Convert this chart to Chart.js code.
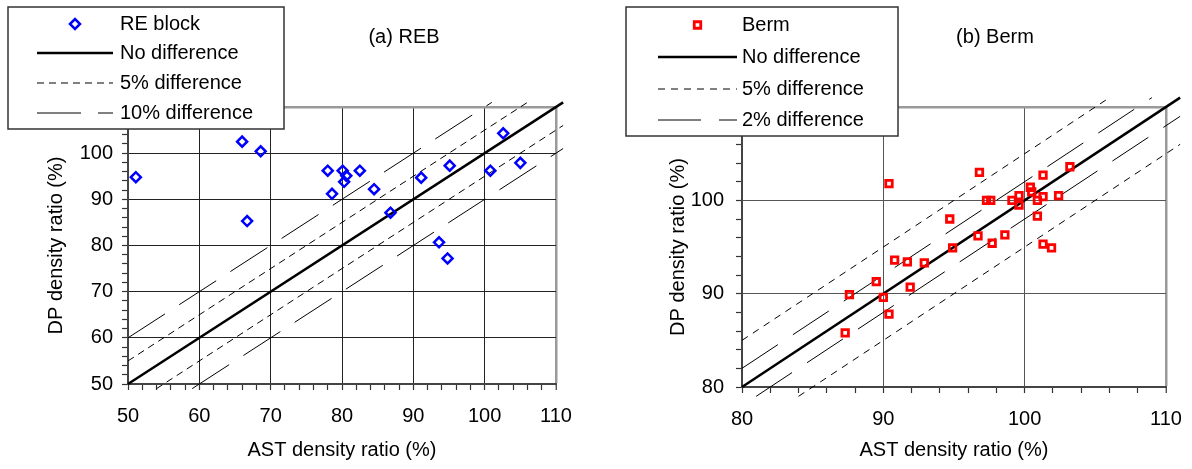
<!DOCTYPE html>
<html>
<head>
<meta charset="utf-8">
<script src="https://cdn.jsdelivr.net/npm/chart.js@4.4.0/dist/chart.umd.min.js"></script>
<style>
  html, body { margin: 0; padding: 0; background: #fff; }
  #wrap { position: relative; width: 1192px; height: 469px; }
  canvas { position: absolute; top: 0; }
  #reb { left: 0; }
  #berm { left: 596px; }
</style>
</head>
<body>
<div id="wrap">
  <canvas id="reb" width="596" height="469"></canvas>
  <canvas id="berm" width="596" height="469"></canvas>
</div>
<script>
// (a) RE block: AST vs DP density ratio (%)
const rebAst = [51.1, 66.0, 68.6, 66.7, 78.0, 78.6, 80.1, 80.6, 80.3, 82.5, 84.5, 86.8, 91.1, 95.1, 93.6, 94.8, 100.8, 102.6, 105.0];
const rebDp  = [94.8, 102.5, 100.4, 85.3, 96.2, 91.2, 96.2, 95.1, 93.8, 96.2, 92.2, 87.1, 94.7, 97.3, 80.7, 77.2, 96.2, 104.3, 97.9];
const rebRange = [50, 110];
const rebBands = [5, 10];   // short dash, long dash

// (b) Berm
const bermAst = [90.4, 96.8, 101.3, 103.2, 100.4, 100.5, 99.6, 99.1, 99.6, 97.3, 97.6, 101.3, 100.9, 102.4, 100.9, 94.7, 96.7, 98.6, 97.7, 101.3, 101.9, 94.9, 90.8, 91.7, 92.9, 89.5, 91.9, 87.6, 90.0, 90.4, 87.3];
const bermDp  = [101.8, 103.0, 102.7, 103.6, 101.4, 100.9, 100.5, 100.0, 99.5, 100.0, 100.0, 100.4, 100.0, 100.5, 98.3, 98.0, 96.2, 96.3, 95.4, 95.3, 94.9, 94.9, 93.6, 93.4, 93.3, 91.3, 90.7, 89.9, 89.6, 87.8, 85.8];
const bermRange = [80, 110];
const bermBands = [5, 2];

const FONT = '"Liberation Sans", Arial, sans-serif';
Chart.defaults.font.family = FONT;
Chart.defaults.font.size = 20;
Chart.defaults.color = '#000';

const zip = (xs, ys) => xs.map((x, i) => ({ x, y: ys[i] }));

// y = x + d, running a little past the frame like the spreadsheet lines do
function diagonal(range, d) {
  const [lo, hi] = range;
  if (d >= 0) return [{ x: lo, y: lo + d }, { x: hi + 1 - d, y: hi + 1 }];
  return [{ x: lo - 1 - d, y: lo - 1 }, { x: hi + 1, y: hi + 1 + d }];
}

function refLines(range, bands, labels, dashes) {
  const out = [{
    label: 'No difference', data: diagonal(range, 0), showLine: true,
    borderColor: '#000', borderWidth: 2.5, pointRadius: 0, clip: false
  }];
  bands.forEach((b, i) => {
    [b, -b].forEach(d => out.push({
      label: labels[i], data: diagonal(range, d), showLine: true,
      borderColor: '#000', borderWidth: 1, borderDash: dashes[i], pointRadius: 0, clip: false
    }));
  });
  return out;
}

function fixBox(size) {
  return scale => {
    if (scale.isHorizontal()) {
      scale.height = size;
      scale.paddingLeft = 0;
      scale.paddingRight = 0;
    } else {
      scale.width = size;
      scale.paddingTop = 0;
      scale.paddingBottom = 0;
    }
  };
}

function axis(range, gridColor, boxSize, titleText, titlePad, tickPad) {
  const [lo, hi] = range;
  return {
    type: 'linear', min: lo, max: hi,
    afterFit: fixBox(boxSize),
    ticks: {
      stepSize: 2, autoSkip: false, maxRotation: 0, padding: tickPad,
      callback: v => (Math.abs(v % 10) < 1e-6 ? String(v) : '')
    },
    grid: {
      color: c => c.tick.value === hi ? '#9a9a9a' : (Math.abs(c.tick.value % 10) < 1e-6 ? gridColor : 'rgba(0,0,0,0)'),
      lineWidth: c => c.tick.value === hi ? 2.5 : 1,
      tickColor: '#333', tickLength: 6, tickWidth: 1.2
    },
    border: { color: '#444', width: 2 },
    title: { display: true, text: titleText, padding: titlePad, font: { size: 20 } }
  };
}

const chartTitle = {
  id: 'chartTitle',
  afterDraw(chart, args, opts) {
    const ctx = chart.ctx;
    ctx.save();
    ctx.font = '20px ' + FONT;
    ctx.fillStyle = '#000';
    ctx.textAlign = 'center';
    ctx.textBaseline = 'middle';
    ctx.fillText(opts.text, opts.x, opts.y);
    ctx.restore();
  }
};

// framed legend sitting over the top-left corner of the plot
const boxLegend = {
  id: 'boxLegend',
  afterDraw(chart, args, opts) {
    const ctx = chart.ctx;
    ctx.save();
    ctx.fillStyle = '#fff';
    ctx.fillRect(opts.left, opts.top, opts.width, opts.height);
    ctx.strokeStyle = '#333';
    ctx.lineWidth = 1.5;
    ctx.strokeRect(opts.left, opts.top, opts.width, opts.height);
    const seen = new Set();
    let row = 0;
    chart.data.datasets.forEach(ds => {
      if (seen.has(ds.label)) return;
      seen.add(ds.label);
      const y = opts.rows[row++];
      ctx.save();
      if (ds.showLine) {
        ctx.strokeStyle = ds.borderColor;
        ctx.lineWidth = ds.borderWidth;
        ctx.setLineDash(ds.borderDash || []);
        ctx.beginPath();
        ctx.moveTo(opts.lineX0, y);
        ctx.lineTo(opts.lineX1, y);
        ctx.stroke();
      } else {
        ctx.strokeStyle = ds.borderColor;
        ctx.fillStyle = 'rgba(0,0,0,0)';
        ctx.lineWidth = ds.borderWidth;
        Chart.helpers.drawPoint(ctx, {
          pointStyle: ds.pointStyle, radius: ds.pointRadius, rotation: 0, borderWidth: ds.borderWidth
        }, (opts.lineX0 + opts.lineX1) / 2, y);
      }
      ctx.restore();
      ctx.font = '20px ' + FONT;
      ctx.fillStyle = '#000';
      ctx.textAlign = 'left';
      ctx.textBaseline = 'middle';
      ctx.fillText(ds.label, opts.textX, y);
    });
    ctx.restore();
  }
};

new Chart(document.getElementById('reb'), {
  type: 'scatter',
  data: {
    datasets: [
      {
        label: 'RE block', data: zip(rebAst, rebDp),
        pointStyle: 'rectRot', pointRadius: 5, borderWidth: 2.5,
        borderColor: '#0000ff', backgroundColor: 'rgba(0,0,0,0)'
      },
      ...refLines(rebRange, rebBands, ['5% difference', '10% difference'], [[7, 5], [44, 17]])
    ]
  },
  options: {
    responsive: false, animation: false, devicePixelRatio: 1,
    layout: { padding: { top: 107, right: 40, left: 0, bottom: 0 } },
    scales: {
      x: axis(rebRange, '#222', 85, 'AST density ratio (%)', { bottom: 7 }, 14),
      y: axis(rebRange, '#222', 128, 'DP density ratio (%)', { top: 44 }, 9)
    },
    plugins: {
      legend: { display: false },
      tooltip: { enabled: false },
      chartTitle: { text: '(a) REB', x: 404, y: 37 },
      boxLegend: { left: 8, top: 7, width: 276, height: 122, rows: [24, 53, 83, 113], lineX0: 37, lineX1: 113, textX: 120 }
    }
  },
  plugins: [chartTitle, boxLegend]
});

new Chart(document.getElementById('berm'), {
  type: 'scatter',
  data: {
    datasets: [
      {
        label: 'Berm', data: zip(bermAst, bermDp),
        pointStyle: 'rect', pointRadius: 4.6, borderWidth: 2.8,
        borderColor: '#ff0000', backgroundColor: 'rgba(0,0,0,0)'
      },
      ...refLines(bermRange, bermBands, ['5% difference', '2% difference'], [[7, 6], [43, 18]])
    ]
  },
  options: {
    responsive: false, animation: false, devicePixelRatio: 1,
    layout: { padding: { top: 107, right: 26, left: 0, bottom: 0 } },
    scales: {
      x: axis(bermRange, '#555', 82, 'AST density ratio (%)', { bottom: 7 }, 14),
      y: axis(bermRange, '#555', 146, 'DP density ratio (%)', { top: 70 }, 12)
    },
    plugins: {
      legend: { display: false },
      tooltip: { enabled: false },
      chartTitle: { text: '(b) Berm', x: 399, y: 37 },
      boxLegend: { left: 30, top: 7, width: 272, height: 129, rows: [25, 57, 89, 120], lineX0: 62, lineX1: 141, textX: 146 }
    }
  },
  plugins: [chartTitle, boxLegend]
});
</script>
</body>
</html>
